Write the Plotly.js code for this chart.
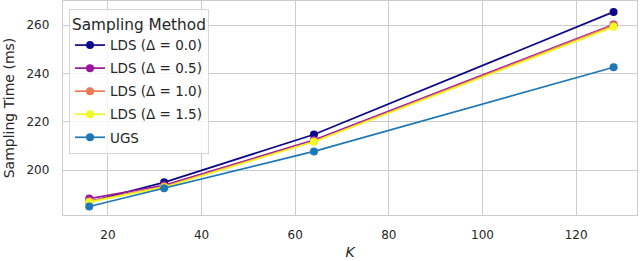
<!DOCTYPE html>
<html><head><meta charset="utf-8">
<script src="https://cdn.plot.ly/plotly-3.0.1.min.js"></script>
<style>body{margin:0;padding:0;background:#fff}#chart{width:640px;height:261px}</style>
</head><body><div id="chart"></div>
<script>
const K = [16, 32, 64, 128];
const lds00 = [187.0, 195.0, 214.8, 265.5];
const lds05 = [188.3, 193.8, 212.5, 260.3];
const lds10 = [187.2, 193.3, 212.0, 260.0];
const lds15 = [186.8, 193.0, 211.8, 259.3];
const ugs = [185.0, 192.6, 207.8, 242.6];
const names = ["LDS (Δ = 0.0)", "LDS (Δ = 0.5)", "LDS (Δ = 1.0)", "LDS (Δ = 1.5)", "UGS"];
const colors = ["#0d0887", "#9c179e", "#ed7953", "#f0f921", "#1f77b4"];
const series = [lds00, lds05, lds10, lds15, ugs];
const traces = series.map((s, i) => ({
  x: K, y: s, name: names[i], type: 'scatter', mode: 'lines+markers',
  legendgroup: 'g' + i,
  line: {color: colors[i], width: 1.7},
  marker: {color: colors[i], size: 8}
}));
const font = "DejaVu Sans, sans-serif";
const layout = {
  width: 640, height: 261,
  margin: {l: 63, r: 3, t: 1, b: 46},
  paper_bgcolor: '#fff', plot_bgcolor: '#fff',
  font: {family: font, size: 12, color: '#262626'},
  showlegend: true,
  legend: {
    x: 0.0105, y: 0.963, xanchor: 'left', yanchor: 'top',
    bgcolor: 'rgba(255,255,255,0.8)', bordercolor: '#d6d6d6', borderwidth: 1,
    font: {family: font, size: 13.5, color: '#262626'},
    title: {text: 'Sampling Method', font: {family: font, size: 15.3, color: '#262626'}},
    traceorder: 'grouped', tracegroupgap: 2.5
  },
  xaxis: {
    range: [10.4, 133.0], tickvals: [20, 40, 60, 80, 100, 120],
    showgrid: true, gridcolor: '#cccccc', gridwidth: 1,
    showline: true, linecolor: '#cccccc', linewidth: 1.2, mirror: true,
    zeroline: false, ticks: '', ticklabelstandoff: 8,
    tickfont: {family: font, size: 12, color: '#262626'},
    title: {text: '<i>K</i>', font: {family: font, size: 14, color: '#262626'}, standoff: 6}
  },
  yaxis: {
    range: [181.5, 270], tickvals: [200, 220, 240, 260],
    showgrid: true, gridcolor: '#cccccc', gridwidth: 1,
    showline: true, linecolor: '#cccccc', linewidth: 1.2, mirror: true,
    zeroline: false, ticks: '', ticklabelstandoff: 10,
    tickfont: {family: font, size: 12, color: '#262626'},
    title: {text: 'Sampling Time (ms)', font: {family: font, size: 14, color: '#262626'}, standoff: 8}
  }
};
Plotly.newPlot('chart', traces, layout, {displayModeBar: false, staticPlot: true});
</script></body></html>
